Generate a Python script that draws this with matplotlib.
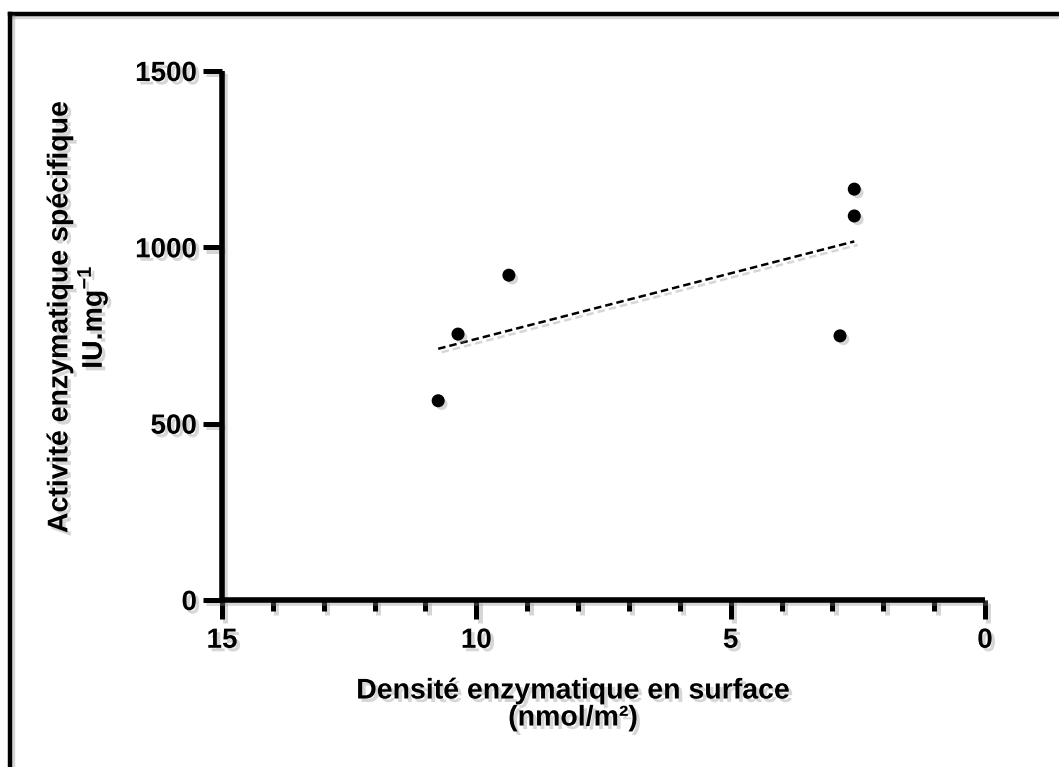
import numpy as np
import matplotlib
matplotlib.use("Agg")
import matplotlib.pyplot as plt
import matplotlib.patheffects as pe
from matplotlib.lines import Line2D

plt.rcParams['font.family'] = ['Liberation Sans', 'DejaVu Sans']
plt.rcParams['font.weight'] = 'bold'
plt.rcParams['mathtext.fontset'] = 'custom'
plt.rcParams['mathtext.rm'] = 'Liberation Sans:bold'
plt.rcParams['mathtext.bf'] = 'Liberation Sans:bold'

# données
densite = [10.75, 10.36, 9.36, 2.85, 2.57, 2.57]
activite = [565, 754, 921, 749, 1089, 1165]
x_ticks = [15, 10, 5, 0]
y_ticks = [0, 500, 1000, 1500]

# ombres portées
ombre_txt = [pe.withSimplePatchShadow(offset=(2.5, -2.5), shadow_rgbFace='0.55', alpha=0.35)]
ombre_ligne = [pe.SimpleLineShadow(offset=(2.5, -2.5), shadow_color='0.55', alpha=0.35), pe.Normal()]

fig = plt.figure(figsize=(10.59, 7.67), dpi=100)
ax = fig.add_axes([222 / 1059, 1 - 600 / 767, 763 / 1059, 529 / 767])

# régression linéaire
pente, origine = np.polyfit(densite, activite, 1)
xr = np.array([max(densite), min(densite)])
ax.plot(xr, pente * xr + origine, color='black', lw=1.8, ls=(0, (3, 1.6)),
        path_effects=ombre_ligne, clip_on=False)

ax.scatter(densite, activite, s=70, color='black', zorder=3, clip_on=False,
           path_effects=[pe.withSimplePatchShadow(offset=(2.5, -2.5), shadow_rgbFace='0.55', alpha=0.35)])

ax.set_xlim(15, 0)
ax.set_ylim(0, 1500)
ax.set_xticks(x_ticks)
ax.set_xticks(np.arange(0, 15, 1), minor=True)
ax.set_yticks(y_ticks)

for s in ['top', 'right']:
    ax.spines[s].set_visible(False)
for s in ['left', 'bottom']:
    ax.spines[s].set_linewidth(4)
    ax.spines[s].set_capstyle('butt')
    ax.spines[s].set_path_effects(ombre_ligne)

ax.tick_params(axis='both', which='major', length=14, width=3.6, labelsize=20, pad=4)
ax.tick_params(axis='x', which='minor', length=8, width=3.6)
ax.tick_params(axis='x', which='major', pad=6)
for lab in ax.get_xticklabels() + ax.get_yticklabels():
    lab.set_fontweight('bold')
    lab.set_path_effects(ombre_txt)
for t in ax.xaxis.get_major_ticks() + ax.xaxis.get_minor_ticks() + ax.yaxis.get_major_ticks():
    t.tick1line.set_path_effects(ombre_ligne)

ax.set_xlabel('Densité enzymatique en surface\n(nmol/m²)', fontsize=20.5,
              fontweight='bold', linespacing=1.05, path_effects=ombre_txt)
ax.xaxis.set_label_coords((573 - 222) / 763, (600 - 705) / 529)
ax.xaxis.label.set_va('center')
ax.set_ylabel('Activité enzymatique spécifique\nIU.mg$^{-1}$', fontsize=20.5,
              fontweight='bold', linespacing=1.05, path_effects=ombre_txt)
ax.yaxis.set_label_coords((79 - 222) / 763, (600 - 317) / 529)
ax.yaxis.label.set_va('center')

# cadre
cadre = dict(transform=fig.transFigure, color='black', lw=3.2, path_effects=ombre_ligne)
fig.add_artist(Line2D([9.5 / 1059, 1.0], [1 - 13.5 / 767, 1 - 13.5 / 767], **cadre))
fig.add_artist(Line2D([9.5 / 1059, 9.5 / 1059], [0.0, 1 - 13.5 / 767], **cadre))

fig.savefig('out.png', dpi=100)
